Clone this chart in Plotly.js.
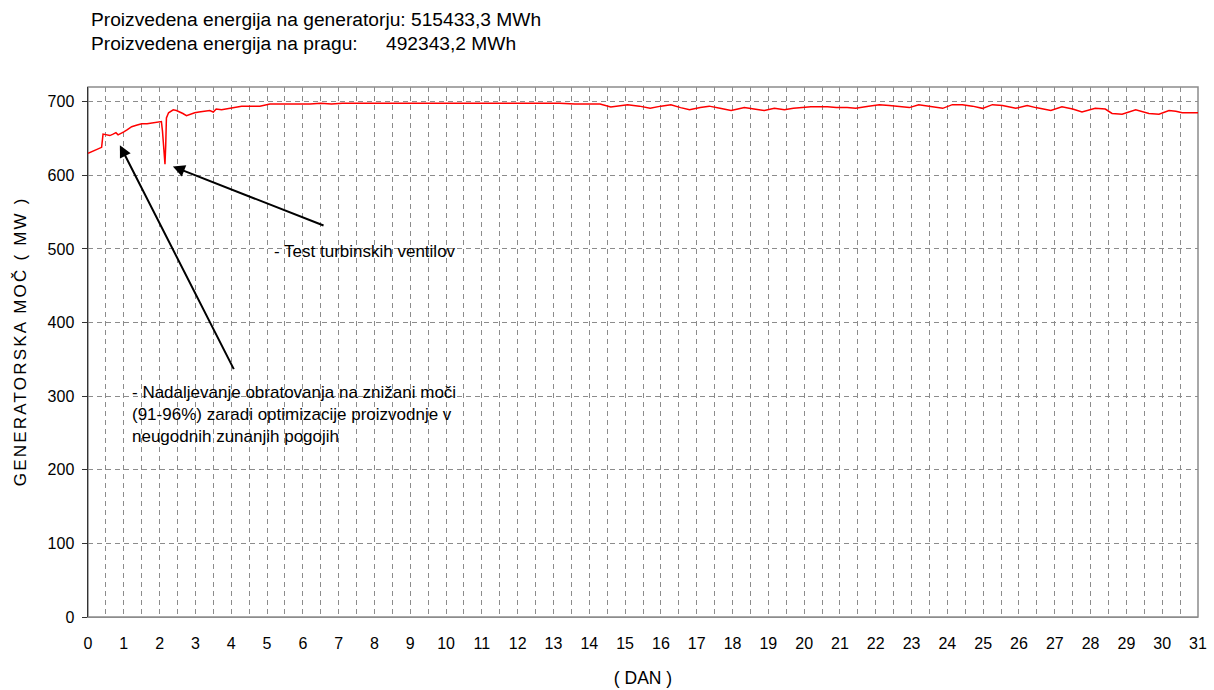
<!DOCTYPE html>
<html>
<head>
<meta charset="utf-8">
<script src="https://cdn.plot.ly/plotly-3.0.1.min.js"></script>
<style>
html,body{margin:0;padding:0;background:#fff;}
#chart{width:1214px;height:690px;}
#chart .annotation[data-index="0"] text{letter-spacing:2.2px;}
</style>
</head>
<body>
<div id="chart"></div>
<script>
// Day of month (x) and generator power in MW (y)
const days = [0.00,0.10,0.20,0.33,0.38,0.42,0.52,0.61,0.70,0.78,0.84,0.89,1.00,1.10,1.22,1.35,1.50,1.65,1.78,1.90,2.05,2.08,2.12,2.15,2.17,2.19,2.25,2.38,2.47,2.57,2.65,2.75,2.85,2.98,3.10,3.25,3.40,3.50,3.58,3.73,3.85,4.00,4.15,4.29,4.45,4.60,4.80,5.08,5.36,5.60,5.90,6.20,6.50,6.80,7.10,7.40,7.87,8.30,8.98,9.50,10.00,10.50,11.00,11.50,12.00,12.47,13.00,13.17,13.60,14.10,14.30,14.60,15.07,15.40,15.70,16.00,16.28,16.55,16.80,17.10,17.35,17.65,17.96,18.15,18.33,18.60,18.89,19.17,19.45,19.70,20.19,20.65,20.90,21.20,21.44,21.80,22.10,22.38,22.65,22.94,23.20,23.50,23.87,24.14,24.42,24.70,24.98,25.26,25.54,25.91,26.23,26.47,26.89,27.20,27.50,27.76,28.13,28.41,28.60,28.88,29.26,29.63,29.91,30.19,30.38,30.56,30.93,31.00];
const power = [630,632,634,637,638,656,655,654,656,658,655,656,659,662,666,668,670,670,671,672,673,660,630,615,640,678,685,689,688,686,684,681,683,685,686,687,688,686,690,689,690,692,693,694,694,694,694,697,697,696,697,697,698,697,698,698,698,699,699,699,699,698,699,699,699,698,698,698,697,697,697,693,696,694,691,694,696,692,689,692,694,691,688,690,692,690,688,691,689,691,693,693,692,692,691,694,696,695,694,692,696,694,691,696,696,694,691,696,695,691,695,692,688,693,690,686,691,690,684,683,689,684,683,688,687,685,685,685];

const headerLines = ['Proizvedena energija na generatorju: 515433,3 MWh', 'Proizvedena energija na pragu:', '492343,2 MWh'];
const noteTexts = ['- Nadaljevanje obratovanja na znižani moči<br>(91-96%) zaradi optimizacije proizvodnje v<br>neugodnih zunanjih pogojih', '- Test turbinskih ventilov'];
const yTitle = 'GENERATORSKA MOČ ( MW )';
const xTitle = '( DAN )';

const FONT = 'Liberation Sans, Arial, sans-serif';
const GRID = '#8c8c8c';

const trace = {
  x: days, y: power, type: 'scatter', mode: 'lines',
  line: {color: '#ff0000', width: 1.5},
  hoverinfo: 'skip'
};

const layout = {
  width: 1214, height: 690,
  margin: {l: 88, r: 16, t: 87, b: 73},
  paper_bgcolor: '#ffffff', plot_bgcolor: '#ffffff',
  showlegend: false,
  font: {family: FONT, color: '#000', size: 16},
  xaxis: {
    range: [0, 31], tick0: 0, dtick: 1, ticks: '',
    showgrid: true, gridcolor: GRID, griddash: '5px,4px', gridwidth: 1,
    minor: {dtick: 0.5, showgrid: true, gridcolor: GRID, griddash: '5px,4px', gridwidth: 1},
    zeroline: false, showline: true, linecolor: GRID, linewidth: 1,
    tickfont: {family: FONT, size: 16, color: '#000'},
    ticklabelstandoff: 12,
    title: {text: xTitle, font: {family: FONT, size: 17.5, color: '#000'}, standoff: 20}
  },
  yaxis: {
    range: [0, 720], tick0: 0, dtick: 100,
    ticks: 'outside', ticklen: 5, tickcolor: '#333',
    showgrid: true, gridcolor: GRID, griddash: '5px,4px', gridwidth: 1,
    zeroline: false, showline: true, linecolor: '#333', linewidth: 1.5,
    tickfont: {family: FONT, size: 16, color: '#000'},
    ticklabelstandoff: 4
  },
  shapes: [
    {type: 'rect', xref: 'paper', yref: 'paper', x0: 0, x1: 1, y0: 0, y1: 1,
     line: {color: GRID, width: 1.5}, fillcolor: 'rgba(0,0,0,0)', layer: 'below'}
  ],
  annotations: [
    // y axis title (rotated)
    {xref: 'paper', yref: 'paper', x: -0.0613, y: 0.5, xanchor: 'center', yanchor: 'middle',
     yshift: 11, textangle: -90, text: yTitle, showarrow: false,
     font: {family: FONT, size: 17, color: '#000'}},
    {xref: 'paper', yref: 'paper', x: 0, y: 1.128, xanchor: 'left', yanchor: 'middle', xshift: 1,
     text: headerLines[0], showarrow: false, font: {family: FONT, size: 19.2, color: '#000'}},
    {xref: 'paper', yref: 'paper', x: 0, y: 1.083, xanchor: 'left', yanchor: 'middle', xshift: 1,
     text: headerLines[1], showarrow: false, font: {family: FONT, size: 19.2, color: '#000'}},
    {xref: 'x', yref: 'paper', x: 8.27, y: 1.083, xanchor: 'left', yanchor: 'middle',
     text: headerLines[2], showarrow: false, font: {family: FONT, size: 19.2, color: '#000'}},
    // arrows (text empty)
    {xref: 'x', yref: 'y', x: 0.89, y: 641, axref: 'x', ayref: 'y', ax: 4.1, ay: 334,
     text: ' ', showarrow: true, arrowhead: 2, arrowsize: 1.2, arrowwidth: 2, arrowcolor: '#000',
     standoff: 0, startstandoff: 0, font: {size: 1}},
    {xref: 'x', yref: 'y', x: 2.37, y: 612, axref: 'x', ayref: 'y', ax: 6.62, ay: 531,
     text: ' ', showarrow: true, arrowhead: 2, arrowsize: 1.2, arrowwidth: 2, arrowcolor: '#000',
     standoff: 0, startstandoff: 0, font: {size: 1}},
    {xref: 'x', yref: 'y', x: 1.17, y: 320, xanchor: 'left', yanchor: 'top', align: 'left',
     text: noteTexts[0], showarrow: false, font: {family: FONT, size: 17, color: '#000'}},
    {xref: 'x', yref: 'y', x: 5.15, y: 497, xanchor: 'left', yanchor: 'middle', align: 'left',
     text: noteTexts[1], showarrow: false, font: {family: FONT, size: 17, color: '#000'}}
  ]
};

Plotly.newPlot('chart', [trace], layout, {displayModeBar: false, staticPlot: true});
</script>
</body>
</html>
